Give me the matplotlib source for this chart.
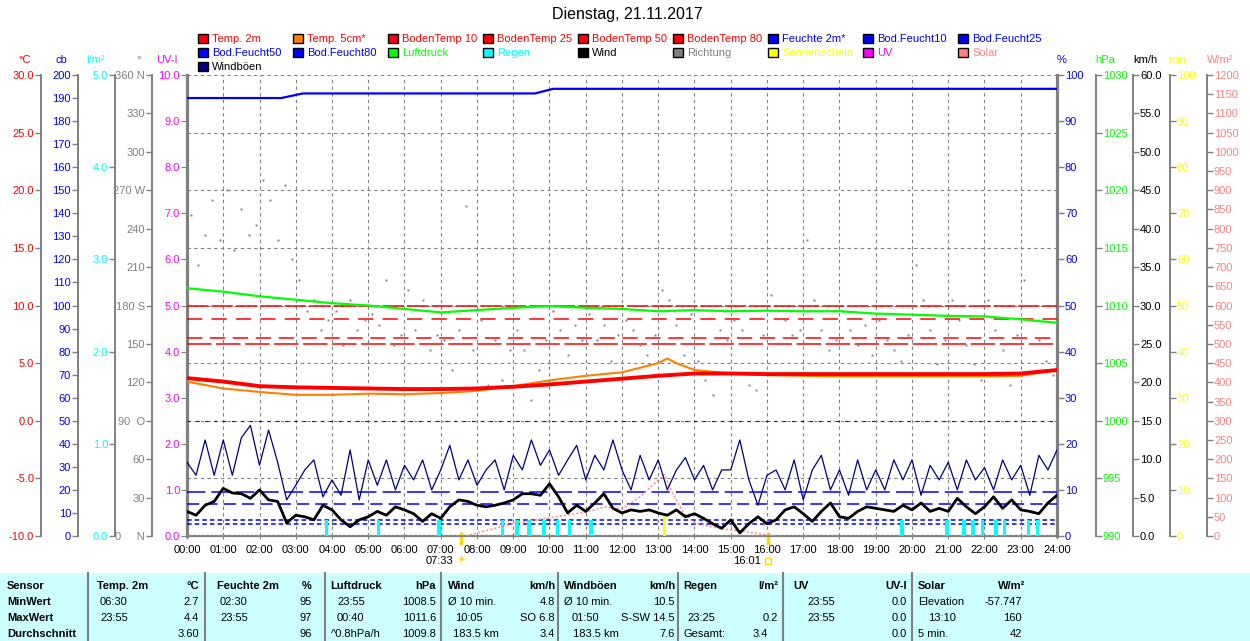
import numpy as np
import matplotlib.pyplot as plt
from matplotlib.patches import Rectangle
from matplotlib.lines import Line2D

plt.rcParams['font.family'] = ['Liberation Sans', 'DejaVu Sans']
plt.rcParams['font.size'] = 8

W, H = 1250, 641
X0, X1, Y0, Y1 = 187, 1057, 75, 536   # plot area in pixels
GRAY = '#808080'

# ---------------- data ----------------
hours = np.arange(25)
hours15 = np.arange(97) * 0.25

temp2m = [3.7, 3.4, 3.0, 2.9, 2.85, 2.8, 2.75, 2.75, 2.8, 2.95, 3.15, 3.4, 3.65,
          3.9, 4.1, 4.1, 4.05, 4.05, 4.05, 4.05, 4.05, 4.05, 4.05, 4.1, 4.4]
temp5_t = [0, 1, 2, 3, 4, 5, 6, 7, 7.5, 8, 9, 10, 11, 12, 12.5, 13, 13.25, 13.5,
           14, 15, 16, 17, 18, 19, 20, 21, 22, 23, 24]
temp5 = [3.4, 2.8, 2.5, 2.25, 2.25, 2.35, 2.3, 2.4, 2.5, 2.6, 3.0, 3.5, 3.9, 4.2,
         4.6, 5.0, 5.4, 5.0, 4.4, 4.1, 3.95, 3.9, 3.85, 3.85, 3.85, 3.85, 3.85, 3.9, 4.4]
boden_temp = [10.0, 8.85, 7.2, 6.65]
boden_feucht = [19.1, 13.9, 6.9, 5.2]

press = [1011.5, 1011.2, 1010.8, 1010.5, 1010.2, 1010.0, 1009.7, 1009.4, 1009.6,
         1009.8, 1009.95, 1009.8, 1009.7, 1009.5, 1009.6, 1009.5, 1009.55, 1009.5,
         1009.5, 1009.3, 1009.2, 1009.1, 1009.05, 1008.8, 1008.5]

hum_t = [0, 2.6, 3.2, 9.6, 10.1, 24]
hum = [95, 95, 96, 96, 97, 97]

wind = [3.2, 2.7, 4.0, 4.5, 6.2, 5.6, 5.5, 4.9, 6.0, 4.7, 4.5, 1.7,
        2.7, 2.5, 2.1, 4.0, 3.4, 2.1, 1.2, 2.1, 2.5, 3.2, 2.7, 3.8,
        3.4, 2.9, 1.9, 2.9, 2.3, 3.8, 4.7, 4.5, 4.0, 3.8, 4.0, 4.3,
        4.7, 5.5, 5.5, 5.3, 6.8, 5.1, 3.0, 4.0, 3.2, 4.3, 5.5, 3.6,
        3.0, 3.4, 3.2, 3.4, 3.0, 2.7, 3.4, 2.5, 2.9, 2.3, 1.6, 1.0,
        2.1, 0.4, 1.6, 2.5, 1.6, 2.1, 3.4, 3.8, 2.9, 1.9, 3.2, 4.3,
        2.5, 2.3, 3.2, 3.8, 3.6, 3.4, 3.2, 4.0, 3.4, 4.3, 3.2, 3.6,
        3.2, 4.9, 3.8, 2.9, 3.8, 5.1, 3.6, 4.7, 3.4, 3.2, 2.9, 4.3,
        5.3]
gusts = [9.6, 7.9, 12.5, 7.9, 12.5, 7.9, 12.8, 14.4, 9.2, 13.8, 9.6, 4.7,
         6.6, 8.6, 9.9, 5.1, 7.3, 5.3, 11.2, 4.7, 9.9, 6.6, 9.9, 6.0,
         9.2, 7.3, 9.9, 6.0, 8.6, 11.8, 7.3, 9.9, 6.6, 8.6, 9.9, 6.0,
         10.5, 8.6, 12.5, 9.2, 11.2, 7.9, 9.9, 11.8, 7.3, 10.5, 8.6, 12.5,
         8.6, 6.0, 10.5, 7.3, 9.9, 6.0, 8.6, 10.2, 7.3, 9.2, 6.0, 8.6,
         8.6, 12.5, 7.3, 4.0, 7.9, 8.6, 6.0, 9.9, 4.7, 8.6, 10.5, 6.0,
         8.6, 5.3, 9.9, 6.0, 8.6, 6.0, 9.9, 7.3, 9.9, 5.3, 9.2, 7.3,
         9.6, 6.0, 9.9, 7.3, 8.9, 6.0, 9.9, 7.3, 9.2, 5.3, 10.5, 8.6,
         11.2]

dir_t = np.arange(0.1, 24, 0.2)
dir_deg = [251, 212, 235, 262, 231, 270, 223, 255, 235, 243, 278, 262, 231, 274, 216,
           200, 176, 184, 161, 169, 176, 149, 184, 161, 169, 173, 165, 200, 149, 157,
           192, 161, 184, 145, 157, 153, 130, 161, 258, 145, 169, 118, 153, 122, 145,
           161, 145, 106, 130, 153, 176, 161, 141, 165, 153, 173, 153, 165, 137, 157,
           169, 161, 149, 141, 157, 192, 184, 165, 141, 173, 137, 122, 110, 161, 153,
           169, 161, 118, 114, 157, 188, 176, 169, 157, 161, 231, 184, 161, 145, 153,
           176, 161, 149, 165, 141, 169, 153, 145, 137, 157, 212, 184, 161, 134, 153,
           184, 169, 149, 134, 122, 184, 161, 145, 118, 157, 200, 169, 153, 137, 126]

rain_t = [3.85, 5.28, 6.96, 8.70, 9.11, 9.44, 9.85, 10.22, 10.55, 11.14, 19.72,
          20.96, 21.43, 21.69, 21.94, 22.31, 22.55, 23.21, 23.46]
rain = [0.17, 0.17, 0.17, 0.17, 0.17, 0.17, 0.17, 0.17, 0.17, 0.17, 0.17,
        0.17, 0.17, 0.17, 0.17, 0.17, 0.17, 0.17, 0.17]

sun_t = [13.17]
sun_min = [5]
sunrise, sunset = 7.55, 16.017

solar_t = [7.7, 8.0, 8.5, 9.0, 9.5, 10.0, 10.5, 11.0, 11.5, 12.0, 12.5, 13.0, 13.17,
           13.4, 13.7, 14.0, 14.5, 15.0, 15.5, 16.0, 16.2]
solar = [0, 8, 20, 32, 40, 47, 55, 62, 76, 70, 102, 146, 160, 110, 60, 34, 23, 16,
         10, 3, 0]

uv_t = [0, 24]
uv = [0, 0]

# ---------------- figure ----------------
fig = plt.figure(figsize=(W / 100, H / 100), dpi=100)
ax = fig.add_axes([X0 / W, (H - Y1) / H, (X1 - X0) / W, (Y1 - Y0) / H])
ax.set_xlim(0, 24)
ax.set_ylim(0, 10)
ax.spines['top'].set_visible(False)
for s, lw in (('left', 2.3), ('right', 2.3), ('bottom', 1.6)):
    ax.spines[s].set_color(GRAY)
    ax.spines[s].set_linewidth(lw)
ax.set_yticks(np.arange(0, 11))
ax.set_yticklabels([f"{v:.1f}" for v in range(11)])
ax.tick_params(axis='y', color=GRAY, labelcolor='#FF00FF', length=4, pad=1)
ax.set_xticks(hours)
ax.set_xticklabels([f"{h:02d}:00" for h in hours])
ax.tick_params(axis='x', color=GRAY, length=2.5, pad=4)
ax.grid(axis='x', color=GRAY, ls=(0, (3, 3)), lw=0.8)


def side_axis(side, px, lo, hi, ticks, color, labels):
    a = ax.twinx()
    a.set_ylim(lo, hi)
    for s in a.spines.values():
        s.set_visible(False)
    sp = a.spines[side]
    sp.set_visible(True)
    sp.set_position(('axes', (px - X0) / (X1 - X0)))
    sp.set_color(GRAY)
    sp.set_linewidth(1.4)
    a.yaxis.set_ticks_position(side)
    a.set_yticks(ticks)
    a.set_yticklabels(labels)
    a.tick_params(axis='y', color=GRAY, labelcolor=color, length=4, width=1, pad=1)
    return a


t_ticks = np.arange(-10, 31, 5)
ax_t = side_axis('left', 41, -10, 30, t_ticks, '#FF0000', [f"{v:.1f}" for v in t_ticks])
ax_t.grid(axis='y', color=GRAY, ls=(0, (3, 3)), lw=0.8)
ax_t.axhline(0, color='#0000FF', ls=(0, (3, 5)), lw=0.8)
cb_ticks = np.arange(0, 201, 10)
ax_cb = side_axis('left', 78, 0, 200, cb_ticks, '#0000FF', [str(v) for v in cb_ticks])
r_ticks = np.arange(0, 6)
ax_r = side_axis('left', 115, 0, 5, r_ticks, '#00FFFF', [f"{v:.1f}" for v in r_ticks])
d_ticks = np.arange(0, 361, 30)
d_labels = ['0     N', '30', '60', '90  O', '120', '150', '180 S', '210', '240',
            '270 W', '300', '330', '360 N']
ax_d = side_axis('left', 152, 0, 360, d_ticks, GRAY, d_labels)

h_ticks = np.arange(0, 101, 10)
ax_h = side_axis('right', 1058, 0, 100, h_ticks, '#0000FF', [str(v) for v in h_ticks])
p_ticks = np.arange(990, 1031, 5)
ax_p = side_axis('right', 1096, 990, 1030, p_ticks, '#00FF00', [str(v) for v in p_ticks])
s_ticks = np.arange(0, 1201, 50)
ax_s = side_axis('right', 1207, 0, 1200, s_ticks, '#FF8080', [str(v) for v in s_ticks])
m_ticks = np.arange(0, 101, 10)
ax_m = side_axis('right', 1170, 0, 100, m_ticks, '#FFFF00', [str(v) for v in m_ticks])
w_ticks = np.arange(0, 61, 5)
ax_w = side_axis('right', 1133, 0, 60, w_ticks, 'black', [f"{v:.1f}" for v in w_ticks])

# ---------------- series ----------------
ax_t.plot(temp5_t, temp5, color='#FF8000', lw=1.5)
ax_t.plot(hours, temp2m, color='#FF0000', lw=2.8)
for v, ds in zip(boden_temp, [(14, 2), (10, 6), (10, 5), (16, 3)]):
    ax_t.axhline(v, color='#FF0000', lw=1.1, ls=(0, ds))
for v, ds in zip(boden_feucht, [(12, 4), (8, 4), (3, 2), (3, 2)]):
    ax_cb.axhline(v, color='#0000FF', lw=1.1, ls=(0, ds))

ax_r.bar(rain_t, rain, width=0.1, color='#00FFFF')
ax_r.plot([0, 24], [0, 0], color='#40C8C8', lw=1.2, ls=':')
ax_d.plot(dir_t, dir_deg, ls='none', marker='s', ms=1.4, color=GRAY, mew=0)
ax_h.plot(hum_t, hum, color='#0000FF', lw=1.6)
ax_p.plot(hours, press, color='#00FF00', lw=1.6)
ax_s.plot(solar_t, solar, color='#FF8080', lw=1, ls=(0, (1.5, 1.5)))
ax_m.bar(sun_t, sun_min, width=0.1, color='#FFFF00')
ax.plot(uv_t, uv, color='#FF00FF', lw=0.5, ls=':')
ax_w.plot(hours15, gusts, color='#000080', lw=0.9)
ax_w.plot(hours15, wind, color='black', lw=2)

# sunrise / sunset markers
xt = ax.get_xaxis_transform()
for t in (sunrise, sunset):
    ax.plot([t, t], [0.009, -0.02], transform=xt, color='#FFD800', lw=2.5,
            clip_on=False, solid_capstyle='butt')
ax.annotate('07:33', xy=(sunrise, 0), xycoords=xt, xytext=(-7, -25),
            textcoords='offset pixels', ha='right', va='center')
ax.annotate('\u2600', xy=(sunrise, 0), xycoords=xt, xytext=(1, -25),
            textcoords='offset pixels', ha='center', va='center', color='#FFD800',
            fontsize=9, family='DejaVu Sans')
ax.annotate('16:01', xy=(sunset, 0), xycoords=xt, xytext=(-7, -25),
            textcoords='offset pixels', ha='right', va='center')
ax.plot([sunset], [-25 / (Y1 - Y0)], transform=xt, marker='s', ms=5, mfc='none',
        mec='#FFD800', mew=1, clip_on=False)

# ---------------- texts ----------------
def ftext(x, y, s, **kw):
    fig.text(x / W, 1 - y / H, s, va='center', **kw)


ftext(627, 15, 'Dienstag, 21.11.2017', ha='center', fontsize=11.5)
for x, s, c in [(25, '°C', '#FF0000'), (61, 'cb', '#0000FF'), (96, 'l/m²', '#00FFFF'),
                (139, '°', GRAY), (167, 'UV-I', '#FF00FF'), (1062, '%', '#0000FF'),
                (1105, 'hPa', '#00FF00'), (1145, 'km/h', 'black'), (1177, 'min', '#FFFF00'),
                (1220, 'W/m²', '#FF8080')]:
    ftext(x, 60, s, ha='center', color=c)

legend = [
    (0, 0, 'Temp. 2m', '#FF0000', '#FF0000'), (1, 0, 'Temp. 5cm*', '#FF8000', '#FF0000'),
    (2, 0, 'BodenTemp 10', '#FF0000', '#FF0000'), (3, 0, 'BodenTemp 25', '#FF0000', '#FF0000'),
    (4, 0, 'BodenTemp 50', '#FF0000', '#FF0000'), (5, 0, 'BodenTemp 80', '#FF0000', '#FF0000'),
    (6, 0, 'Feuchte 2m*', '#0000FF', '#0000FF'), (7, 0, 'Bod.Feucht10', '#0000FF', '#0000FF'),
    (8, 0, 'Bod.Feucht25', '#0000FF', '#0000FF'),
    (0, 1, 'Bod.Feucht50', '#0000FF', '#0000FF'), (1, 1, 'Bod.Feucht80', '#0000FF', '#0000FF'),
    (2, 1, 'Luftdruck', '#00FF00', '#00FF00'), (3, 1, 'Regen', '#00FFFF', '#00FFFF'),
    (4, 1, 'Wind', 'black', 'black'), (5, 1, 'Richtung', GRAY, GRAY),
    (6, 1, 'Sonnenschein', '#FFFF00', '#FFFF00'), (7, 1, 'UV', '#FF00FF', '#FF00FF'),
    (8, 1, 'Solar', '#FF8080', '#FF8080'),
    (0, 2, 'Windböen', '#000080', 'black'),
]
for col, row, s, bc, tc in legend:
    x = 198 + 95 * col
    y = 38.5 + 14 * row
    fig.add_artist(Rectangle((x / W, 1 - (y + 4.5) / H), 10 / W, 9 / H,
                             transform=fig.transFigure, fc=bc, ec='black', lw=1))
    ftext(x + 14, y, s, color=tc, fontsize=8)

# ---------------- summary table ----------------
fig.add_artist(Rectangle((0, 0), 1, (H - 573) / H, transform=fig.transFigure,
                         fc='#CCFFFF', ec='none'))
for x in [88, 205, 325, 441, 558, 678, 783, 912]:
    fig.add_artist(Line2D([x / W, x / W], [0, (H - 573) / H], transform=fig.transFigure,
                          color=GRAY, lw=1.5))

rows_y = [586, 602, 618, 634]
cells = [
    (0, 7, 'l', 'Sensor', True), (0, 97, 'l', 'Temp. 2m', True), (0, 199, 'r', '°C', True),
    (0, 217, 'l', 'Feuchte 2m', True), (0, 312, 'r', '%', True),
    (0, 330, 'l', 'Luftdruck', True), (0, 436, 'r', 'hPa', True),
    (0, 448, 'l', 'Wind', True), (0, 555, 'r', 'km/h', True),
    (0, 564, 'l', 'Windböen', True), (0, 675, 'r', 'km/h', True),
    (0, 683, 'l', 'Regen', True), (0, 778, 'r', 'l/m²', True),
    (0, 793, 'l', 'UV', True), (0, 907, 'r', 'UV-I', True),
    (0, 918, 'l', 'Solar', True), (0, 1025, 'r', 'W/m²', True),
    (1, 7, 'l', 'MinWert', True), (1, 100, 'l', '06:30', False), (1, 199, 'r', '2.7', False),
    (1, 220, 'l', '02:30', False), (1, 312, 'r', '95', False),
    (1, 337, 'l', '23:55', False), (1, 436, 'r', '1008.5', False),
    (1, 448, 'l', 'Ø 10 min.', False), (1, 555, 'r', '4.8', False),
    (1, 564, 'l', 'Ø 10 min.', False), (1, 675, 'r', '10.5', False),
    (1, 835, 'r', '23:55', False), (1, 907, 'r', '0.0', False),
    (1, 918, 'l', 'Elevation', False), (1, 1022, 'r', '-57.747', False),
    (2, 7, 'l', 'MaxWert', True), (2, 100, 'l', '23:55', False), (2, 199, 'r', '4.4', False),
    (2, 220, 'l', '23:55', False), (2, 312, 'r', '97', False),
    (2, 337, 'l', '00:40', False), (2, 436, 'r', '1011.6', False),
    (2, 455, 'l', '10:05', False), (2, 555, 'r', 'SO 6.8', False),
    (2, 572, 'l', '01:50', False), (2, 675, 'r', 'S-SW 14.5', False),
    (2, 687, 'l', '23:25', False), (2, 778, 'r', '0.2', False),
    (2, 835, 'r', '23:55', False), (2, 907, 'r', '0.0', False),
    (2, 928, 'l', '13:10', False), (2, 1022, 'r', '160', False),
    (3, 7, 'l', 'Durchschnitt', True), (3, 199, 'r', '3.60', False),
    (3, 312, 'r', '96', False), (3, 331, 'l', '^0.8hPa/h', False),
    (3, 436, 'r', '1009.8', False), (3, 453, 'l', '183.5 km', False),
    (3, 555, 'r', '3.4', False), (3, 573, 'l', '183.5 km', False),
    (3, 675, 'r', '7.6', False), (3, 684, 'l', 'Gesamt:', False),
    (3, 768, 'r', '3.4', False), (3, 907, 'r', '0.0', False),
    (3, 918, 'l', '5 min.', False), (3, 1022, 'r', '42', False),
]
for r, x, al, s, bold in cells:
    ftext(x, rows_y[r], s, ha='left' if al == 'l' else 'right',
          fontweight='bold' if bold else 'normal', fontsize=8)

fig.savefig('out.png', dpi=100)
